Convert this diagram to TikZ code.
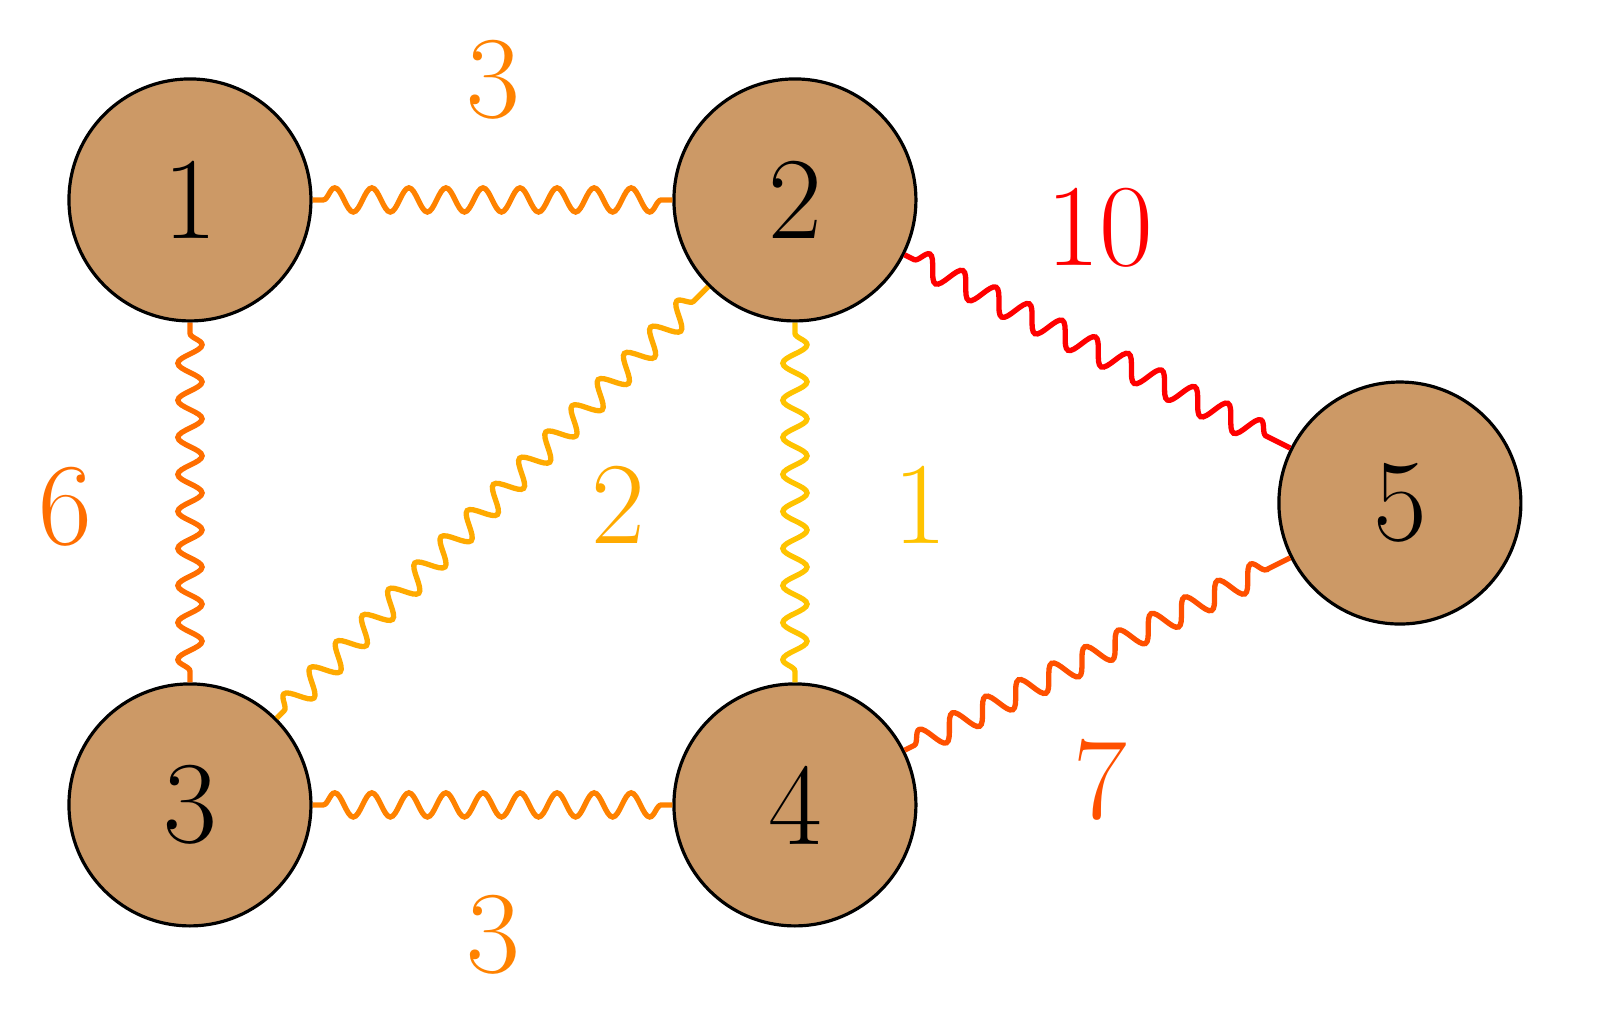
\documentclass[tikz,border=0pt]{standalone}
\usetikzlibrary{decorations.pathmorphing}
\definecolor{nodefill}{RGB}{204,153,102}
\definecolor{cA}{RGB}{255,130,0}
\definecolor{cB}{RGB}{255,110,0}
\definecolor{cC}{RGB}{255,170,0}
\definecolor{cD}{RGB}{255,195,0}
\definecolor{cE}{RGB}{255,0,0}
\definecolor{cF}{RGB}{255,80,0}
\begin{document}
\begin{tikzpicture}[
  v/.style={circle,draw=black,line width=0.6pt,fill=nodefill,minimum size=1.6cm,inner sep=0pt,font=\fontsize{22}{24}\selectfont},
  e/.style={line width=1pt,decorate,decoration={snake,amplitude=0.08cm,segment length=0.245cm,pre length=2pt,post length=2pt}},
  w/.style={font=\fontsize{22}{24}\selectfont}]
\useasboundingbox (0,0) rectangle (10.579,-6.797);
\node[v] (n1) at (1.256,-1.322) {1};
\node[v] (n2) at (5.256,-1.322) {2};
\node[v] (n3) at (1.256,-5.322) {3};
\node[v] (n4) at (5.256,-5.322) {4};
\node[v] (n5) at (9.256,-3.326) {5};
\draw[e,cA] (n1) -- (n2);
\draw[e,cB] (n1) -- (n3);
\draw[e,cC] (n3) -- (n2);
\draw[e,cD] (n2) -- (n4);
\draw[e,cE] (n2) -- (n5);
\draw[e,cA] (n3) -- (n4);
\draw[e,cF] (n4) -- (n5);
\node[w,text=cA] (l13) at (3.26,-0.529) {3};
\node[w,text=cE] (l25) at (7.273,-1.508) {10};
\node[w,text=cB] (l13b) at (0.43,-3.352) {6};
\node[w,text=cC] (l32) at (4.086,-3.339) {2};
\node[w,text=cD] (l24) at (6.083,-3.339) {1};
\node[w,text=cF] (l45) at (7.273,-5.157) {7};
\node[w,text=cA] (l34) at (3.26,-6.182) {3};
\end{tikzpicture}
\end{document}
